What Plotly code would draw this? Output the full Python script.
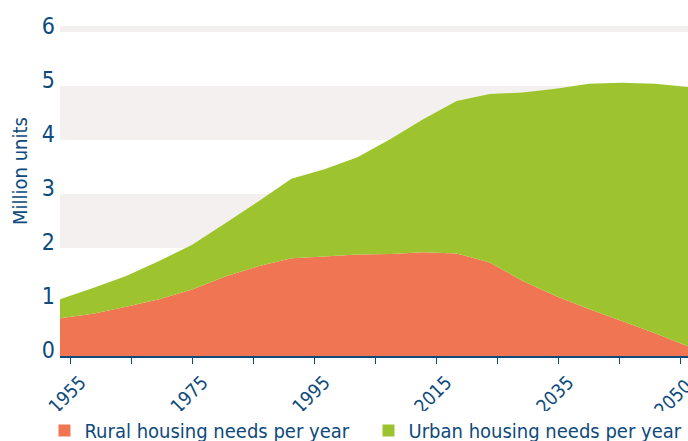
import numpy as np
import plotly.graph_objects as go

# values (million units per year)
years = [1955, 1960, 1965, 1970, 1975, 1980, 1985, 1990, 1995, 2000,
         2005, 2010, 2015, 2020, 2025, 2030, 2035, 2040, 2045, 2050]
total = [1.05, 1.26, 1.48, 1.76, 2.06, 2.46, 2.86, 3.28, 3.46, 3.68,
         4.02, 4.39, 4.72, 4.85, 4.88, 4.95, 5.04, 5.06, 5.04, 4.98]
rural = [0.70, 0.78, 0.91, 1.05, 1.23, 1.47, 1.66, 1.81, 1.84, 1.88,
         1.89, 1.92, 1.90, 1.73, 1.39, 1.11, 0.87, 0.65, 0.42, 0.18]
urban = [round(t - r, 2) for t, r in zip(total, rural)]

# nbsp on the last label keeps it inside the right edge
tick_text = ["1955", "", "1975", "", "1995", "", "2015", "", "2035", "", "2050\u00a0"]

RURAL = "#F07552"
URBAN = "#9DC42E"
NAVY = "#0E4A7C"
BAND = "#F3F0EF"
FONT = "DejaVu Sans Condensed, sans-serif"

fig = go.Figure()
fig.add_scatter(x=years, y=rural, stackgroup="a", mode="none",
                fillcolor=RURAL, showlegend=False, hoverinfo="skip")
fig.add_scatter(x=years, y=urban, stackgroup="a", mode="none",
                fillcolor=URBAN, showlegend=False, hoverinfo="skip")

# square legend entries
fig.add_scatter(x=[None], y=[None], mode="markers", name="Rural housing needs per year",
                marker=dict(symbol="square", size=12, color=RURAL))
fig.add_scatter(x=[None], y=[None], mode="markers", name="Urban housing needs per year",
                marker=dict(symbol="square", size=12, color=URBAN))

ymax = 6.11
for lo, hi in [(2, 3), (4, 5), (6, ymax)]:
    fig.add_shape(type="rect", xref="paper", yref="y", x0=0, x1=1, y0=lo, y1=hi,
                  fillcolor=BAND, line_width=0, layer="below")

# tick marks are spaced evenly and do not sit on the data years
tick_vals = list(np.linspace(1956.6, 2048.8, len(tick_text)))

fig.update_layout(
    width=688, height=441,
    margin=dict(l=60, r=0, t=26, b=85, autoexpand=False),
    paper_bgcolor="white", plot_bgcolor="white",
    font=dict(family=FONT, color=NAVY, size=18),
    legend=dict(orientation="h", x=-0.0247, xanchor="left", y=-0.167, yanchor="top",
                font=dict(size=20), entrywidth=279, entrywidthmode="pixels",
                traceorder="normal", itemsizing="constant"),
    xaxis=dict(range=[1955, 2050], tickvals=tick_vals, ticktext=tick_text,
               tickangle=-45, ticks="outside", ticklen=6, tickcolor=NAVY,
               showline=True, linecolor=NAVY, linewidth=1.5, showgrid=False,
               zeroline=False, tickfont=dict(size=19), ticklabeloverflow="allow",
               ticklabelshift=10),
    yaxis=dict(range=[0, ymax], tickvals=[0, 1, 2, 3, 4, 5, 6], showgrid=False,
               zeroline=False, showline=False, tickfont=dict(size=23),
               ticklabelstandoff=4, ticklabelshift=-6),
    annotations=[dict(text="Million units", xref="paper", yref="paper",
                      x=-0.064, y=0.56, xanchor="center", yanchor="middle",
                      textangle=-90, showarrow=False,
                      font=dict(size=20, color=NAVY))],
)

fig.write_html("out.html", config={"displayModeBar": False},
               post_script="document.body.style.margin='0';"
               "document.body.style.overflow='hidden';")
